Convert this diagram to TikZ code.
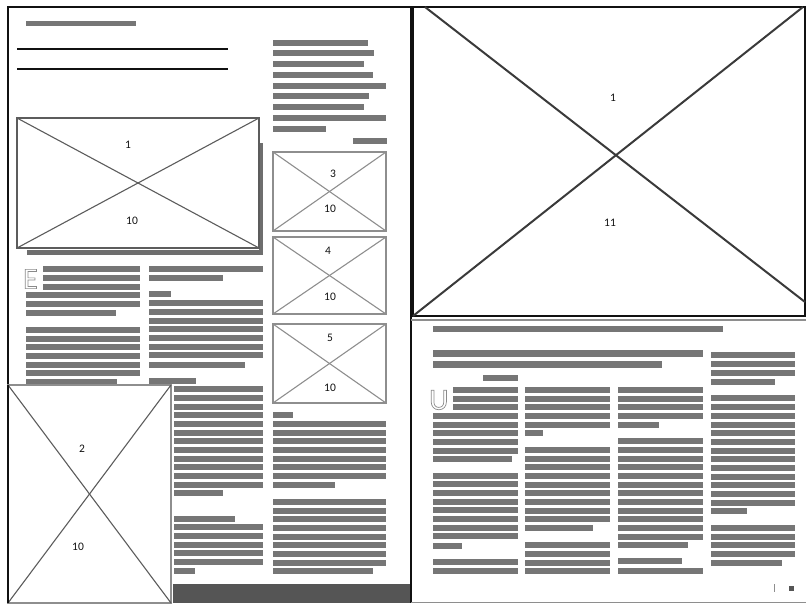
\documentclass[tikz,border=0pt]{standalone}
\usepackage{fontspec}
\setmainfont{Carlito}
\usetikzlibrary{positioning}
\definecolor{SpreadInk}{HTML}{111111}
\definecolor{SpreadBar}{HTML}{767676}
\definecolor{SpreadFrame}{HTML}{5C5C5C}
\definecolor{SpreadLight}{HTML}{8E8E8E}
\definecolor{SpreadCap}{HTML}{8A8A8A}
\definecolor{SpreadDark}{HTML}{555555}
\definecolor{SpreadCross}{HTML}{3A3A3A}
\tikzset{
  spread bar/.style={fill=SpreadBar},
  spread rule/.style={draw=SpreadInk, line width=1.3pt},
  spread page/.style={draw=SpreadInk, line width=1.6pt},
  spread photo/.style={draw=SpreadFrame, line width=1.6pt, inner sep=0pt, outer sep=0pt},
  spread thumb/.style={draw=SpreadLight, line width=1.3pt, inner sep=0pt, outer sep=0pt},
  spread hero/.style={draw=SpreadInk, line width=2.6pt, inner sep=0pt, outer sep=0pt},
  spread cross/.style={draw=SpreadFrame, line width=1.1pt},
  spread hero cross/.style={draw=SpreadCross, line width=2pt},
  spread label/.style={font=\fontsize{11.5}{13}\selectfont, text=SpreadInk, inner sep=0pt},
  spread cap/.style={font=\fontsize{30}{30}\selectfont, text=SpreadCap, inner sep=0pt, anchor=west},
}
% one bar per y value, from x #1 to x #2
\newcommand{\SpreadLines}[3]{%
  \foreach \y in {#3} \fill[spread bar] (#1,\y-2.6) rectangle (#2,\y+2.6);%
}
% hollow drop cap
\newcommand{\SpreadHollow}[1]{%
  \special{pdf:literal direct 1 Tr 0.7 w}#1\special{pdf:literal direct 0 Tr}%
}

\begin{document}
\begin{tikzpicture}[x=1pt,y=-1pt]
  \useasboundingbox (0,0) rectangle (806,603);

  % left page -- frame, title, rules
  \draw[spread page] (8,603) -- (8,7) -- (806,7);
  \draw[spread page] (411,7) -- (411,603);
  \fill[spread bar] (26,21) rectangle (136,26);
  \draw[spread rule] (17,49) -- (228,49);
  \draw[spread rule] (17,69) -- (228,69);

  % intro column
  \foreach \y/\e in {43/368,53/374,64/364,75/373,86/386,96/369,107/364,118/386,129/326}
    \fill[spread bar] (273,\y-2.6) rectangle (\e,\y+2.6);
  \SpreadLines{353}{387}{141}

  % picture 1
  \fill[SpreadDark!85] (27,250) rectangle (263,255);
  \fill[SpreadDark!85] (259,143) rectangle (263,252);
  \node[spread photo, minimum width=242pt, minimum height=130pt] (photo1) at (138,183) {};
  \draw[spread cross] (photo1.north west) -- (photo1.south east);
  \draw[spread cross] (photo1.south west) -- (photo1.north east);
  \node[spread label] (photo1a) at (128,145) {1};
  \node[spread label] (photo1b) at (132,221) {10};

  % pictures 3, 4, 5
  \node[spread thumb, minimum width=113pt, minimum height=79pt] (thumb3) at (329.5,191.5) {};
  \node[spread thumb, minimum width=113pt, minimum height=77pt] (thumb4) at (329.5,275.5) {};
  \node[spread thumb, minimum width=113pt, minimum height=79pt] (thumb5) at (329.5,363.5) {};
  \foreach \t in {thumb3,thumb4,thumb5} {
    \draw[spread cross, draw=SpreadLight] (\t.north west) -- (\t.south east);
    \draw[spread cross, draw=SpreadLight] (\t.south west) -- (\t.north east);
  }
  \node[spread label] (thumb3a) at (333,174) {3};
  \node[spread label] (thumb3b) at (330,209) {10};
  \node[spread label] (thumb4a) at (328,251) {4};
  \node[spread label] (thumb4b) at (330,297) {10};
  \node[spread label] (thumb5a) at (330,338) {5};
  \node[spread label] (thumb5b) at (330,388) {10};

  % body text, left page
  \node[spread cap] (capE) at (23,279) {\SpreadHollow{E}};
  \SpreadLines{43}{140}{269,278,287}
  \SpreadLines{26}{140}{295,304,330,339,347,356,365,373}
  \SpreadLines{26}{116}{313}
  \SpreadLines{26}{117}{382}

  \SpreadLines{149}{263}{269,303,312,321,329,338,347,355}
  \SpreadLines{149}{223}{278}
  \SpreadLines{149}{171}{294}
  \SpreadLines{149}{245}{365}
  \SpreadLines{149}{196}{381}

  \SpreadLines{174}{263}{389,398,407,415,424,433,441,450,459,467,476,485,527,536,545,553,562}
  \SpreadLines{174}{223}{493}
  \SpreadLines{174}{235}{519}
  \SpreadLines{174}{195}{571}

  \SpreadLines{273}{293}{415}
  \SpreadLines{273}{386}{424,433,441,450,459,467,476,502,511,519,528,537,545,554,563}
  \SpreadLines{273}{335}{485}
  \SpreadLines{273}{373}{571}

  % picture 2
  \node[spread photo, draw=SpreadLight, line width=1.3pt, minimum width=163pt, minimum height=218pt] (photo2) at (89.5,494) {};
  \draw[spread cross] (photo2.north west) -- (photo2.south east);
  \draw[spread cross] (photo2.south west) -- (photo2.north east);
  \node[spread label] (photo2a) at (82,449) {2};
  \node[spread label] (photo2b) at (78,547) {10};
  \draw[spread page] (8,385) -- (8,603);

  % footer band
  \fill[SpreadDark] (173,584) rectangle (410,603);

  % right page -- hero picture
  \node[spread hero, minimum width=392pt, minimum height=309pt] (hero) at (609,161.5) {};
  \draw[spread hero cross] ([xshift=12pt]hero.north west) -- ([yshift=14pt]hero.south east);
  \draw[spread hero cross] (hero.south west) -- ([xshift=-2pt]hero.north east);
  \node[spread label] (heroa) at (613,98) {1};
  \node[spread label] (herob) at (610,223) {11};

  % right page -- headline and deck
  \draw[SpreadLight, line width=2pt] (411,320) -- (806,320);
  \draw[SpreadLight, line width=1pt] (411,602) -- (806,602);
  \SpreadLines{433}{723}{329}
  \fill[spread bar] (433,349.5) rectangle (703,356.5);
  \fill[spread bar] (433,360.5) rectangle (662,367.5);
  \SpreadLines{483}{518}{378}

  % right page -- four columns
  \node[spread cap] (capU) at (429,400) {\SpreadHollow{U}};
  \SpreadLines{453}{518}{390,399,407}
  \SpreadLines{433}{518}{416,425,433,442,451,476,484,493,502,510,519,528,536,562,571}
  \SpreadLines{433}{512}{459}
  \SpreadLines{433}{462}{546}

  \SpreadLines{525}{610}{390,399,407,416,425,450,459,467,476,485,493,502,511,519,545,554,563,571}
  \SpreadLines{525}{543}{433}
  \SpreadLines{525}{593}{528}

  \SpreadLines{618}{703}{390,399,407,416,441,450,459,467,476,485,493,502,511,519,528,537,571}
  \SpreadLines{618}{659}{425}
  \SpreadLines{618}{688}{545}
  \SpreadLines{618}{682}{561}

  \SpreadLines{711}{795}{355,364,373,398,407,416,425,433,442,451,459,468,477,485,494,503,528,537,545,554}
  \SpreadLines{711}{775}{382}
  \SpreadLines{711}{747}{511}
  \SpreadLines{711}{782}{563}

  % folio
  \draw[SpreadLight, line width=.8pt] (774,584) -- (774,592);
  \fill[SpreadDark] (788.5,585.5) rectangle (793.5,590.5);
\end{tikzpicture}
\end{document}
